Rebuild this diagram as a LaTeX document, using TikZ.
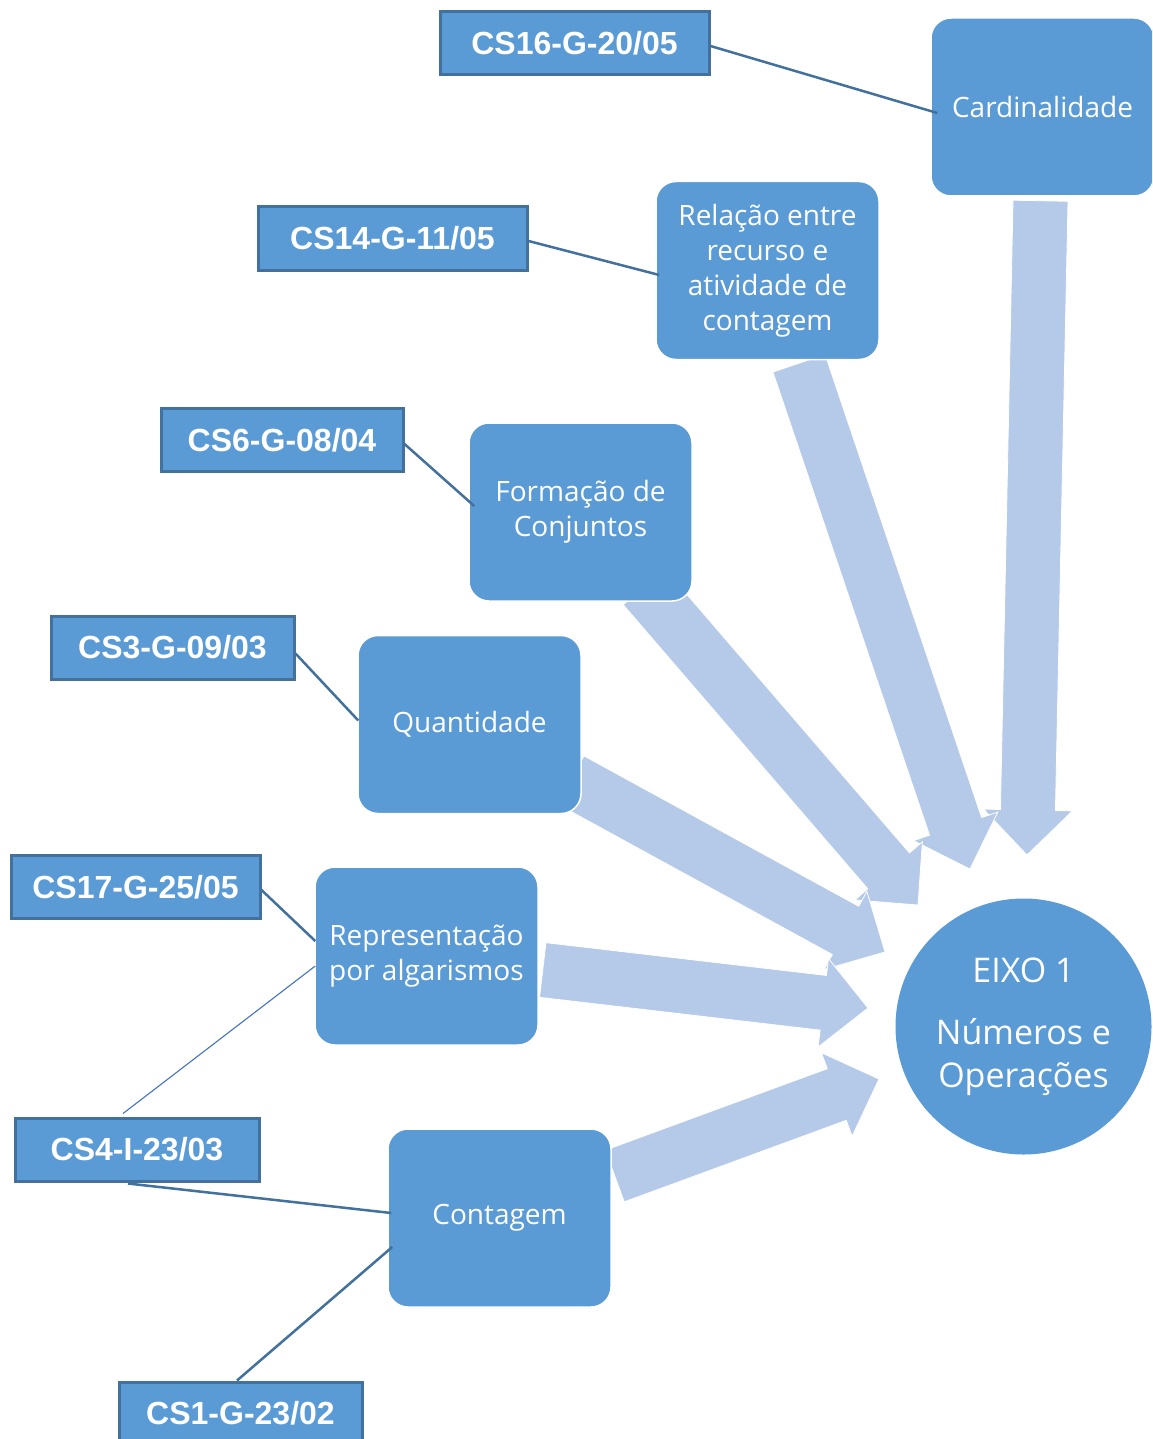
\documentclass[tikz,border=0pt]{standalone}
\usepackage{fontspec}
\usetikzlibrary{calc}
\newfontfamily\labelfont{Liberation Sans}
\newfontfamily\boxfont{Open Sans}
\definecolor{boxblue}{HTML}{5B9BD5}
\definecolor{edgeblue}{HTML}{41719C}
\definecolor{thinblue}{HTML}{4472C4}
\definecolor{arrowblue}{HTML}{B5CAE8}
\pgfdeclarelayer{paper}
\pgfdeclarelayer{flow}
\pgfsetlayers{paper,flow,main}

% block arrow from tail centre #1 to tip #2
\newcommand{\flowarrow}[2]{%
  \coordinate (hb) at ($(#2)!22.5pt!(#1)$);
  \filldraw[flowstyle]
    ($(#1)!13.75pt!90:(#2)$) -- ($(hb)!13.75pt!90:(#2)$) --
    ($(hb)!22.25pt!90:(#2)$) -- (#2) --
    ($(hb)!22.25pt!-90:(#2)$) -- ($(hb)!13.75pt!-90:(#2)$) --
    ($(#1)!13.75pt!-90:(#2)$) -- cycle;
}

\begin{document}
\begin{tikzpicture}[x=0.5pt,y=-0.5pt,
  code/.style={draw=edgeblue, line width=1.5pt, fill=boxblue, text=white,
    font=\labelfont\bfseries\fontsize{16}{19}\selectfont,
    minimum height=31.5pt, inner sep=0pt},
  topic/.style={draw=white, line width=0.75pt, fill=boxblue, rounded corners=10pt,
    text=white, font=\boxfont\fontsize{14}{17.5}\selectfont,
    minimum width=111.5pt, minimum height=89pt, align=center, inner sep=0pt},
  axis/.style={circle, fill=boxblue, text=white, minimum size=128pt, inner sep=0pt,
    font=\boxfont\fontsize{17}{21.5}\selectfont, align=center},
  link/.style={draw=edgeblue, line width=1.25pt},
  thinlink/.style={draw=thinblue, line width=0.55pt},
  flowstyle/.style={fill=arrowblue, draw=white, line width=0.4pt}
]
\useasboundingbox (0,0) rectangle (1152,1439);
\clip (0,0) rectangle (1152,1439);
\begin{pgfonlayer}{paper}
  \fill[white] (0,0) rectangle (1152,1439);
\end{pgfonlayer}

% topics
\node[topic] (card)  at (1042.5,107)  {Cardinalidade};
\node[topic] (rel)   at (767.5,270.5) {Relação entre\\recurso e\\atividade de\\contagem};
\node[topic] (form)  at (580.5,512)   {Formação de\\Conjuntos};
\node[topic] (quant) at (469.5,724.5) {Quantidade};
\node[topic] (repr)  at (426.5,956)   {Representação\\por algarismos};
\node[topic] (cont)  at (499.5,1218)  {Contagem};

% axis
\node[axis] (eixo) at (1023.5,1026.5) {EIXO 1\\[9.5pt]Números e\\Operações};

% session codes
\node[code, minimum width=134.5pt] (cs16) at (574.5,43.5)  {CS16-G-20/05};
\node[code, minimum width=134.5pt] (cs14) at (392.5,238.5) {CS14-G-11/05};
\node[code, minimum width=121pt]   (cs6)  at (282,440)     {CS6-G-08/04};
\node[code, minimum width=121.5pt] (cs3)  at (172.5,647.5) {CS3-G-09/03};
\node[code, minimum width=124.5pt] (cs17) at (135.5,887)   {CS17-G-25/05};
\node[code, minimum width=122pt]   (cs4)  at (137,1149.5)  {CS4-I-23/03};
\node[code, minimum width=121.5pt] (cs1)  at (240.5,1413.5){CS1-G-23/02};

% connectors
\draw[link] ([shift={(0,2.5)}]cs16.east) -- ([shift={(7,6)}]card.west);
\draw[link] ([shift={(0,2.5)}]cs14.east) -- ([shift={(4,4.5)}]rel.west);
\draw[link] ([shift={(0,4)}]cs6.east) -- ([shift={(6,-6)}]form.west);
\draw[link] ([shift={(0,6)}]cs3.east) -- ([shift={(1,-4)}]quant.west);
\draw[link] ([shift={(0,3)}]cs17.east) -- ([shift={(1,-15)}]repr.west);
\draw[thinlink] ([shift={(-14,-3)}]cs4.north) -- ([shift={(1,10)}]repr.west);
\draw[link] ([shift={(-9,1)}]cs4.south) -- ([shift={(4,-5)}]cont.west);
\draw[link] ([shift={(-3.5,0)}]cs1.north) -- ([shift={(5,29)}]cont.west);

% arrows into the axis
\coordinate (tcard)  at ([shift={(-2,4)}]card.south);
\coordinate (trel)   at ([shift={(31.5,3)}]rel.south);
\coordinate (tform)  at ([shift={(63.5,-15)}]form.south);
\coordinate (tquant) at ([shift={(-11,55.5)}]quant.east);
\coordinate (trepr)  at ([shift={(4,14)}]repr.east);
\coordinate (tcont)  at ([shift={(3,-42)}]cont.east);
\coordinate (pcard)  at (1027,855);
\coordinate (prel)   at (970,869);
\coordinate (pform)  at (918,905);
\coordinate (pquant) at (885,952);
\coordinate (prepr)  at (868,1008);
\coordinate (pcont)  at (879,1079);
\begin{pgfonlayer}{flow}
  \flowarrow{tcard}{pcard}
  \flowarrow{trel}{prel}
  \flowarrow{tform}{pform}
  \flowarrow{tquant}{pquant}
  \flowarrow{trepr}{prepr}
  \flowarrow{tcont}{pcont}
\end{pgfonlayer}
\end{tikzpicture}
\end{document}
